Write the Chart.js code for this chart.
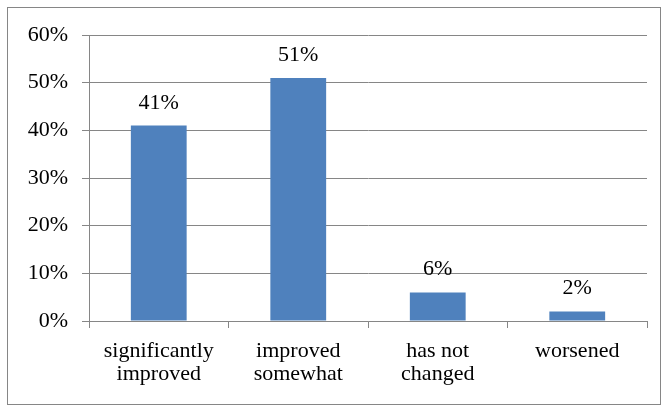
<!DOCTYPE html>
<html>
<head>
<meta charset="utf-8">
<script src="https://cdn.jsdelivr.net/npm/chart.js@4/dist/chart.umd.min.js"></script>
<style>
  html, body { margin: 0; padding: 0; background: #fff; }
  #wrap { width: 668px; height: 406px; position: relative; }
</style>
</head>
<body>
<div id="wrap"><canvas id="grafico"></canvas></div>
<script>
// ---- DATA ----
const categorias = [["significantly", "improved"], ["improved", "somewhat"], ["has not", "changed"], "worsened"];
const valores = [41, 51, 6, 2];
const ticksY = [0, 10, 20, 30, 40, 50, 60];

const FUENTE = "'Liberation Serif', 'Times New Roman', serif";
const GRIS = "#868686";

// etiquetas encima de cada barra + marco exterior
const etiquetasPlugin = {
  id: "etiquetas",
  afterDatasetsDraw(chart) {
    const c = chart.ctx;
    const meta = chart.getDatasetMeta(0);
    c.save();
    c.font = "22px " + FUENTE;
    c.fillStyle = "#000";
    c.textAlign = "center";
    c.textBaseline = "alphabetic";
    meta.data.forEach((bar, i) => {
      c.fillText(valores[i] + "%", bar.x, bar.y - 17);
    });
    c.restore();
  },
  afterDraw(chart) {
    const c = chart.ctx;
    c.save();
    c.strokeStyle = GRIS;
    c.lineWidth = 1;
    c.strokeRect(7.5, 7.5, 653, 397);
    c.restore();
  }
};

const ctx = document.getElementById("grafico").getContext("2d");
new Chart(ctx, {
  type: "bar",
  data: {
    labels: categorias,
    datasets: [{
      data: valores,
      backgroundColor: "#4F81BD",
      borderWidth: 0,
      barPercentage: 0.4,
      categoryPercentage: 1
    }]
  },
  options: {
    responsive: true,
    maintainAspectRatio: false,
    animation: false,
    layout: { padding: { top: 35, right: 21, bottom: 0, left: 0 } },
    plugins: {
      legend: { display: false },
      tooltip: { enabled: false }
    },
    scales: {
      x: {
        grid: { drawOnChartArea: false, drawTicks: true, tickLength: 7, color: GRIS },
        border: { color: GRIS, width: 1 },
        ticks: {
          color: "#000",
          font: { family: FUENTE, size: 22, lineHeight: 1.08 },
          padding: 11,
          maxRotation: 0,
          autoSkip: false
        },
        afterFit(scale) { scale.height = 85; }
      },
      y: {
        min: 0,
        max: 60,
        afterBuildTicks(scale) { scale.ticks = ticksY.map(v => ({ value: v })); },
        grid: { color: GRIS, tickLength: 7, lineWidth: 1 },
        border: { color: GRIS, width: 1 },
        ticks: {
          color: "#000",
          font: { family: FUENTE, size: 22 },
          padding: 14,
          callback: v => v + "%"
        },
        afterFit(scale) { scale.width = 89; }
      }
    }
  },
  plugins: [etiquetasPlugin]
});
</script>
</body>
</html>
